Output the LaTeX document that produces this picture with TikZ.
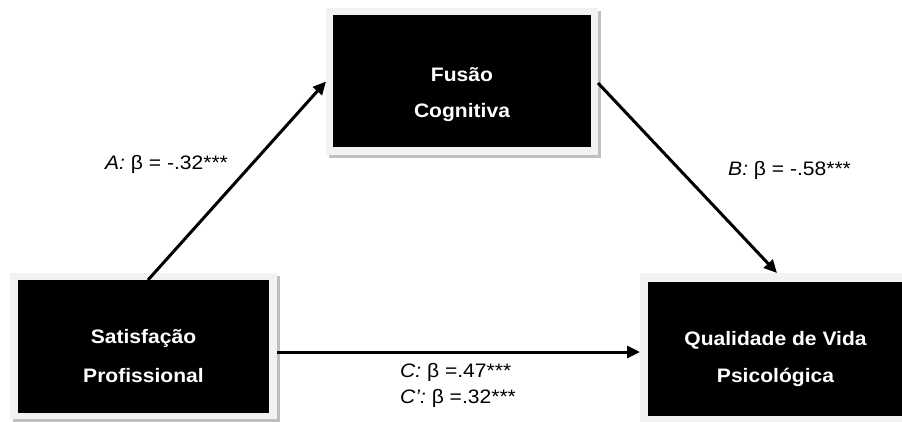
\documentclass[tikz,border=0pt]{standalone}
\usepackage{fontspec}
\setmainfont[FakeStretch=1.08]{Liberation Sans}
\usetikzlibrary{arrows.meta}
\definecolor{framegray}{HTML}{F2F2F2}
\definecolor{shadowgray}{HTML}{BFBFBF}
\tikzset{
  frame/.style={fill=framegray, draw=none, inner sep=0pt, outer sep=0pt},
  inner/.style={fill=black, draw=none, inner sep=0pt, outer sep=0pt},
  boxtext/.style={text=white, font=\fontsize{19.5}{22}\selectfont\bfseries, anchor=base, inner sep=0pt},
  lbl/.style={font=\fontsize{19.5}{22}\selectfont, anchor=base west, inner sep=0pt},
  conn/.style={line width=3pt, -{Triangle[length=13pt,width=12pt]}}
}
\begin{document}
\begin{tikzpicture}[x=1pt,y=-1pt]
\useasboundingbox (0,0) rectangle (902,421);
% shadows
\fill[shadowgray] (329,11) rectangle (601,158);
\fill[shadowgray] (13,276) rectangle (280,422);
\fill[shadowgray] (643,276) rectangle (910,424);
% outer frames
\node[frame, minimum width=272pt, minimum height=147pt] (fusO) at (462,81.5) {};
\node[frame, minimum width=267pt, minimum height=146pt] (satO) at (143.5,346) {};
\node[frame, minimum width=270pt, minimum height=150pt] (qualO) at (775,348) {};
% inner boxes
\node[inner, minimum width=258pt, minimum height=132pt] (fusI) at (462,81) {};
\node[inner, minimum width=251pt, minimum height=133pt] (satI) at (143.5,346.5) {};
\node[inner, minimum width=258pt, minimum height=134pt] (qualI) at (777,349) {};
% box texts
\node[boxtext] (fus1) at (462,81.5) {Fusão};
\node[boxtext] (fus2) at (462,117.5) {Cognitiva};
\node[boxtext] (sat1) at (143.5,343.5) {Satisfação};
\node[boxtext] (sat2) at (143.5,382) {Profissional};
\node[boxtext] (qual1) at (775.5,345.5) {Qualidade de Vida};
\node[boxtext] (qual2) at (775.5,382) {Psicológica};
% connectors
\draw[conn] ([xshift=4.5pt]satI.north) -- (fusO.west);
\draw[conn] ([yshift=-1.5pt]fusO.east) -- ([xshift=2pt]qualO.north);
\coordinate (cEnd) at (qualO.west |- 0,352);
\draw[conn] (satO.east |- cEnd) -- (cEnd);
% labels
\node[lbl] (la) at (105,169.5) {\textit{A:} β = -.32***};
\node[lbl] (lb) at (728,175) {\textit{B:} β = -.58***};
\node[lbl] (lc) at (400,377) {\textit{C:} β =.47***};
\node[lbl] (lc2) at (400,403) {\textit{C’:} β =.32***};
\end{tikzpicture}
\end{document}
